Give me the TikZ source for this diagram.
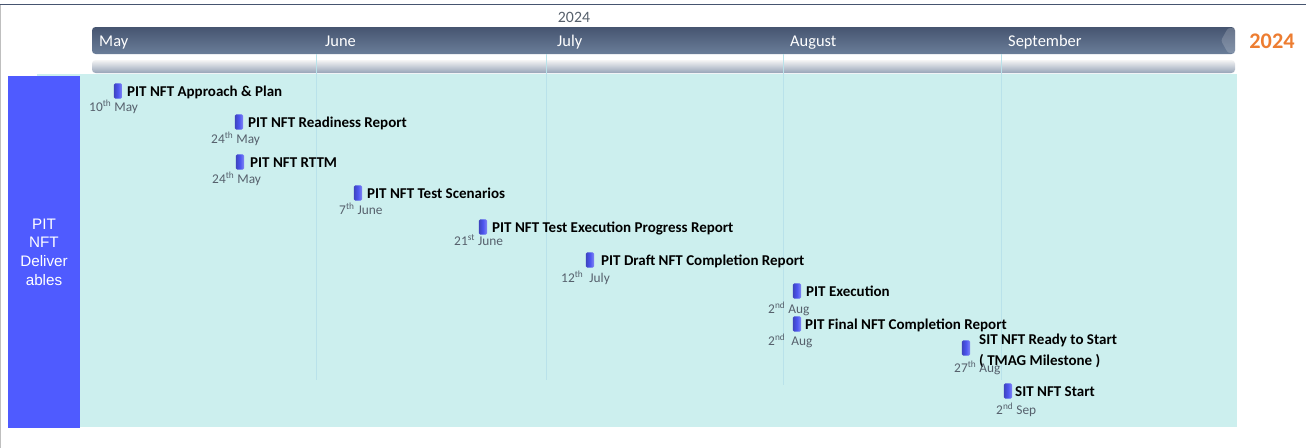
\documentclass[tikz,border=0pt]{standalone}
\usepackage{fontspec}
\setmainfont{Carlito}
\newfontfamily\arialfont{Liberation Sans}
\usepackage{xcolor}
\usetikzlibrary{positioning,calc,shapes}
\definecolor{panelcyan}{HTML}{CCEFEE}
\definecolor{boxblue}{HTML}{4F5BFF}
\definecolor{barTop}{HTML}{465570}
\definecolor{barBot}{HTML}{6A7D99}
\definecolor{msblue}{HTML}{4D55F0}
\definecolor{dategray}{HTML}{56606C}
\definecolor{yearorange}{HTML}{ED7D31}
\definecolor{gridline}{HTML}{B9E2EA}
\tikzstyle{milestone}=[rectangle, rounded corners=1.2pt, inner sep=0pt, minimum width=7pt, minimum height=13pt, left color=msblue!80!black, right color=msblue!70!white, middle color=msblue]
\tikzstyle{mlabel}=[anchor=base west, inner sep=0pt, font=\fontsize{12.8}{14}\selectfont\bfseries]
\tikzstyle{mdate}=[anchor=base west, inner sep=0pt, text=dategray, font=\fontsize{11.4}{13}\selectfont]
\tikzstyle{month}=[anchor=base west, inner sep=0pt, text=white, font=\fontsize{14}{16}\selectfont]

\begin{document}
\begin{tikzpicture}[x=0.03cm, y=-0.03cm]
				\useasboundingbox (0,0) rectangle (1306,448);
				\fill[white] (0,0) rectangle (1306,448);
				\draw[gray!50, line width=0.8pt] (0.6,4) -- (0.6,448);
				\draw[barTop, line width=0.8pt] (0,4) -- (1306,4);

				% header bars
				\node[text=dategray, font=\fontsize{13.5}{15}\selectfont] (yr) at (574,17) {2024};
				\shade[top color=barTop, bottom color=barBot, rounded corners=3pt] (92,27) rectangle (1235,54);
				\fill[white, opacity=0.18, rounded corners=2pt] (1235,28) -- (1228,28) -- (1221,40.5) -- (1228,53) -- (1235,53) -- cycle;
				\shade[top color=gray!8, bottom color=barBot!70!white, rounded corners=3pt] (92,60) rectangle (1235,73);
				\node[text=yearorange, font=\fontsize{19}{22}\selectfont\bfseries] (yr2) at (1272,41) {2024};

				\node[month] (may) at (99,46) {May};
				\node[month] (jun) at (325,46) {June};
				\node[month] (jul) at (557,46) {July};
				\node[month] (aug) at (790,46) {August};
				\node[month] (sep) at (1008,46) {September};

				% panel and side box
				\fill[panelcyan] (37,74) rectangle (1237,427);
				\fill[boxblue] (8,76) rectangle (80,428);
				\node[text=white, align=center, font=\arialfont\fontsize{13}{16}\selectfont] (side) at (44,252) {PIT\\NFT\\Deliver\\ables};
				\draw[gridline, line width=0.5pt] (316.5,54) -- (316.5,380);
				\draw[gridline, line width=0.5pt] (546.5,54) -- (546.5,380);
				\draw[gridline, line width=0.5pt] (783.5,54) -- (783.5,385);
				\draw[gridline, line width=0.5pt] (1001.5,54) -- (1001.5,380);

				% milestones
				\node[milestone] (m1) at (118,91) {};
				\node[mlabel] (l1) at (127,96) {PIT NFT Approach \& Plan};
				\node[mdate] (d1) at (89,111) {10\textsuperscript{th} May};

				\node[milestone] (m2) at (239,122) {};
				\node[mlabel] (l2) at (248,127) {PIT NFT Readiness Report};
				\node[mdate] (d2) at (211,143) {24\textsuperscript{th} May};

				\node[milestone] (m3) at (240,162) {};
				\node[mlabel] (l3) at (250,167) {PIT NFT RTTM};
				\node[mdate] (d3) at (212,183) {24\textsuperscript{th} May};

				\node[milestone] (m4) at (358,193) {};
				\node[mlabel] (l4) at (367,198) {PIT NFT Test Scenarios};
				\node[mdate] (d4) at (339,214) {7\textsuperscript{th} June};

				\node[milestone] (m5) at (483,227) {};
				\node[mlabel] (l5) at (492,232) {PIT NFT Test Execution Progress Report};
				\node[mdate] (d5) at (454,245) {21\textsuperscript{st} June};

				\node[milestone] (m6) at (590,260) {};
				\node[mlabel] (l6) at (601,265) {PIT Draft NFT Completion Report};
				\node[mdate] (d6) at (561,282) {12\textsuperscript{th}\ \ July};

				\node[milestone] (m7) at (797,291) {};
				\node[mlabel] (l7) at (806,296) {PIT Execution};
				\node[mdate] (d7) at (768,313) {2\textsuperscript{nd} Aug};

				\node[milestone] (m8) at (797,324) {};
				\node[mlabel] (l8) at (805,329) {PIT Final NFT Completion Report};
				\node[mdate] (d8) at (768,345) {2\textsuperscript{nd}\ \ Aug};

				\node[milestone] (m9) at (966,348) {};
				\node[mlabel, align=left, anchor=north west, font=\fontsize{12.8}{18}\selectfont\bfseries] (l9) at (979,334) {SIT NFT Ready to Start\\( TMAG Milestone )};
				\node[mdate] (d9) at (954,372) {27\textsuperscript{th} Aug};

				\node[milestone] (m10) at (1008,391) {};
				\node[mlabel] (l10) at (1015,396) {SIT NFT Start};
				\node[mdate] (d10) at (996,414) {2\textsuperscript{nd} Sep};
			\end{tikzpicture}
\end{document}
